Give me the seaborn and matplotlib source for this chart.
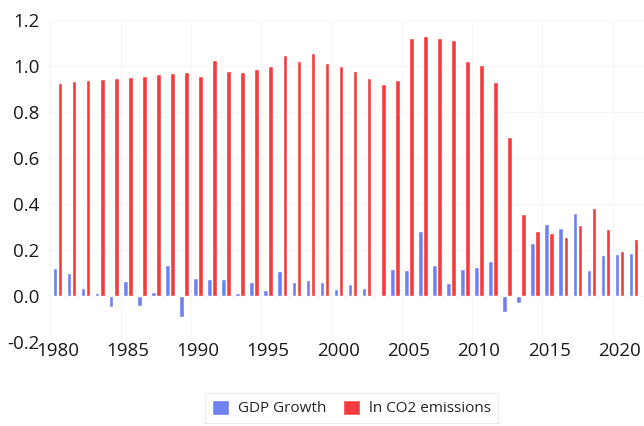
import matplotlib
matplotlib.use("Agg")
import matplotlib.pyplot as plt
import pandas as pd
import seaborn as sns

years = list(range(1980, 2022))

gdp_growth = [
    0.123, 0.100, 0.033, 0.012, -0.046, 0.067, -0.043, 0.016, 0.136, -0.090,
    0.080, 0.073, 0.075, 0.013, 0.061, 0.025, 0.109, 0.061, 0.070, 0.060,
    0.030, 0.053, 0.035, 0.006, 0.116, 0.112, 0.284, 0.136, 0.056, 0.116,
    0.127, 0.151, -0.071, -0.029, 0.232, 0.312, 0.294, 0.362, 0.112, 0.177,
    0.181, 0.186,
]

ln_co2 = [
    0.927, 0.933, 0.938, 0.943, 0.949, 0.953, 0.958, 0.964, 0.970, 0.974,
    0.955, 1.025, 0.980, 0.974, 0.987, 1.000, 1.048, 1.023, 1.055, 1.013,
    1.000, 0.980, 0.946, 0.923, 0.939, 1.123, 1.130, 1.120, 1.111, 1.022,
    1.006, 0.929, 0.690, 0.358, 0.284, 0.275, 0.256, 0.307, 0.381, 0.290,
    0.197, 0.249,
]

series_names = ["GDP Growth", "ln CO2 emissions"]
colors = ["#6f7ff4", "#f43c3f"]

y_ticks = [-0.2, 0.0, 0.2, 0.4, 0.6, 0.8, 1.0, 1.2]
y_tick_labels = ["-0.2", "0.0", "0.2", "0.4", "0.6", "0.8", "1.0", "1.2"]
x_tick_years = [1980, 1985, 1990, 1995, 2000, 2005, 2010, 2015, 2020]

df = pd.DataFrame({
    "Year": years * 2,
    "Value": gdp_growth + ln_co2,
    "Series": [series_names[0]] * len(years) + [series_names[1]] * len(years),
})

sns.set_style("white")
plt.rcParams["font.family"] = ["Open Sans", "DejaVu Sans"]

fig = plt.figure(figsize=(6.44, 4.26), dpi=100)
ax = fig.add_axes([0.074, 0.197, 0.926, 0.756])

sns.barplot(data=df, x="Year", y="Value", hue="Series", hue_order=series_names,
            palette=colors, width=0.72, gap=0.08, saturation=1, ax=ax,
            legend=True)

# ticks every five years, faint grid at the category boundaries
pos = [years.index(y) for y in x_tick_years]
ax.set_xticks(pos)
ax.set_xticklabels([str(y) for y in x_tick_years], fontsize=13.5, color="#1a1a1a")
ax.set_xticks([p - 0.5 for p in pos], minor=True)
ax.set_xlim(-0.7, 41.74)

ax.set_ylim(-0.2, 1.2)
ax.set_yticks(y_ticks)
ax.set_yticklabels(y_tick_labels, fontsize=13.5, color="#1a1a1a")

ax.grid(which="minor", axis="x", color="#f5f5f5", linewidth=0.8)
ax.grid(which="major", axis="y", color="#f5f5f5", linewidth=0.8)
ax.set_axisbelow(True)
ax.tick_params(axis="both", which="both", length=0)
ax.tick_params(axis="x", pad=0)
ax.tick_params(axis="y", pad=6)
for s in ax.spines.values():
    s.set_visible(False)
ax.set_xlabel("")
ax.set_ylabel("")

handles, labels = ax.get_legend_handles_labels()
ax.get_legend().remove()
fig.legend(handles, labels, loc="center", bbox_to_anchor=(0.546, 0.042),
           ncol=2, frameon=True, fontsize=11, handlelength=1.1,
           handleheight=1.1, columnspacing=1.1, handletextpad=0.6,
           edgecolor="#e8e8e8", fancybox=False, borderpad=0.45)

fig.savefig("out.png", dpi=100)
plt.close(fig)
